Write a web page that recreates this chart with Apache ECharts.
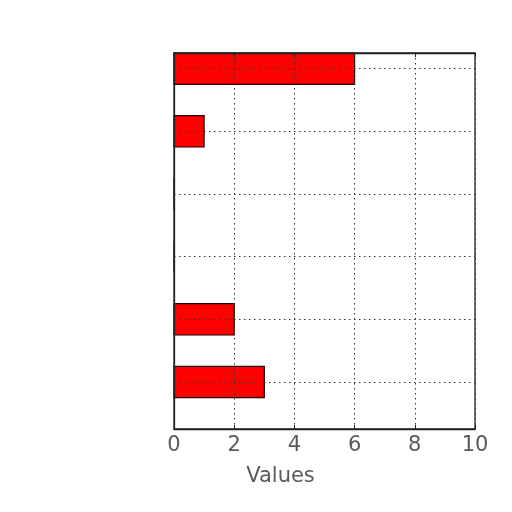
<!DOCTYPE html>
<html>
<head>
<meta charset="utf-8">
<script src="https://cdn.jsdelivr.net/npm/echarts@6/dist/echarts.min.js"></script>
<style>
  html, body { margin: 0; padding: 0; background: #fff; }
  #chart { width: 512px; height: 512px; }
</style>
</head>
<body>
<div id="chart"></div>
<script>
// bar positions from top to bottom, and their values
var rows = [0, 1, 2, 3, 4, 5];
var values = [6, 1, 0, 0, 2, 3];
var xTicks = [0, 2, 4, 6, 8, 10];

var chart = echarts.init(document.getElementById('chart'));

var dotted = { color: '#333', width: 1, type: [1.5, 3.5] };
var frameLine = { show: true, onZero: false, lineStyle: { color: '#222', width: 1.3 } };

var option = {
    backgroundColor: '#fff',
    animation: false,
    grid: {
        left: 174,
        right: 37,
        top: 53,
        bottom: 83,
        show: true,
        borderColor: '#222',
        borderWidth: 1.3,
        backgroundColor: 'transparent'
    },
    xAxis: [{
        type: 'value',
        min: xTicks[0],
        max: xTicks[xTicks.length - 1],
        interval: 2,
        name: 'Values',
        nameLocation: 'middle',
        nameGap: 37,
        nameTextStyle: {
            fontFamily: 'DejaVu Sans',
            fontSize: 21,
            color: '#5a5a5a',
            padding: [0, 88, 0, 0]
        },
        axisLine: frameLine,
        axisTick: { show: true, inside: true, length: 4, lineStyle: { color: '#222' } },
        axisLabel: {
            fontFamily: 'DejaVu Sans',
            fontSize: 21,
            color: '#5a5a5a',
            margin: 6
        },
        splitLine: { show: true, lineStyle: dotted }
    }, {
        type: 'value',
        position: 'top',
        min: xTicks[0],
        max: xTicks[xTicks.length - 1],
        interval: 2,
        axisLine: frameLine,
        axisTick: { show: true, inside: true, length: 4, lineStyle: { color: '#222' } },
        axisLabel: { show: false },
        splitLine: { show: false }
    }],
    yAxis: {
        type: 'value',
        inverse: true,
        min: -0.25,
        max: 5.75,
        axisLine: frameLine,
        axisTick: { show: false },
        axisLabel: { show: false },
        splitLine: { show: false }
    },
    series: [{
        type: 'custom',
        xAxisIndex: 0,
        z: -1,
        data: rows.map(function (r, i) { return [values[i], r]; }),
        renderItem: function (params, api) {
            var val = api.value(0);
            var row = api.value(1);
            var start = api.coord([0, row]);
            var end = api.coord([val, row]);
            var h = api.size([0, 0.5])[1];
            return {
                type: 'rect',
                shape: { x: start[0], y: start[1] - h / 2, width: end[0] - start[0], height: h },
                style: { fill: '#ff0000', stroke: '#1a0000', lineWidth: 1.2 }
            };
        },
        markLine: {
            silent: true,
            symbol: 'none',
            label: { show: false },
            lineStyle: dotted,
            data: rows.map(function (r) { return { yAxis: r }; })
        }
    }]
};

chart.setOption(option);
</script>
</body>
</html>
